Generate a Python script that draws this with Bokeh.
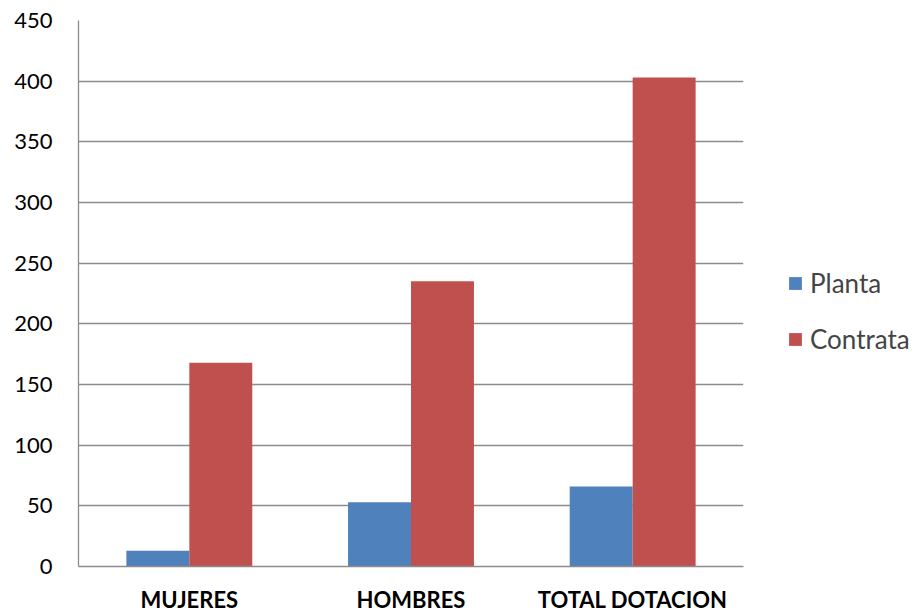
from bokeh.plotting import figure
from bokeh.models import ColumnDataSource, FactorRange, Range1d, FixedTicker, Legend, LegendItem
from bokeh.transform import dodge
from bokeh.embed import file_html
from bokeh.resources import INLINE

categories = ["MUJERES", "HOMBRES", "TOTAL DOTACION"]
planta = [13, 53, 66]
contrata = [168, 235, 403]
y_ticks = [0, 50, 100, 150, 200, 250, 300, 350, 400, 450]

source = ColumnDataSource(dict(cat=categories, planta=planta, contrata=contrata))

FONT = "Lato"
GRID = "#8c8c8c"

p = figure(output_backend="svg", toolbar_location=None,
           frame_width=665, frame_height=546,
           x_range=FactorRange(*categories, range_padding=0),
           y_range=Range1d(0, 450),
           min_border_left=78, min_border_right=165, min_border_top=20, min_border_bottom=37)
p.outline_line_color = None
p.background_fill_color = "white"
p.border_fill_color = "white"

bw = 0.284
r1 = p.vbar(x=dodge("cat", -bw / 2, range=p.x_range), top="planta", width=bw,
            source=source, fill_color="#4F81BD", line_color=None)
r2 = p.vbar(x=dodge("cat", bw / 2, range=p.x_range), top="contrata", width=bw,
            source=source, fill_color="#C0504D", line_color=None)

p.xgrid.grid_line_color = None
p.ygrid.grid_line_color = GRID
p.ygrid.grid_line_width = 1.3
p.yaxis.ticker = FixedTicker(ticks=y_ticks)
p.yaxis.major_tick_line_color = None
p.yaxis.minor_tick_line_color = None
p.yaxis.axis_line_color = GRID
p.yaxis.axis_line_width = 1.3
p.yaxis.major_label_standoff = 20
p.yaxis.major_label_text_font = FONT
p.yaxis.major_label_text_font_size = "22px"
p.yaxis.major_label_text_color = "#000000"

p.xaxis.major_tick_line_color = None
p.xaxis.minor_tick_line_color = None
p.xaxis.axis_line_color = GRID
p.xaxis.axis_line_width = 1.3
p.xaxis.major_label_standoff = 13
p.xaxis.major_label_text_font = FONT
p.xaxis.major_label_text_font_style = "bold"
p.xaxis.major_label_text_font_size = "22px"
p.xaxis.major_label_text_color = "#000000"

legend = Legend(items=[LegendItem(label="Planta", renderers=[r1]),
                       LegendItem(label="Contrata", renderers=[r2])],
                location=(44, 211), border_line_color=None, background_fill_alpha=0,
                padding=0, margin=0, spacing=24,
                glyph_width=16, glyph_height=16, label_height=28,
                label_text_font=FONT, label_text_font_size="26px", label_standoff=7)
p.add_layout(legend, "right")

open("out.html", "w").write(file_html(p, INLINE))
